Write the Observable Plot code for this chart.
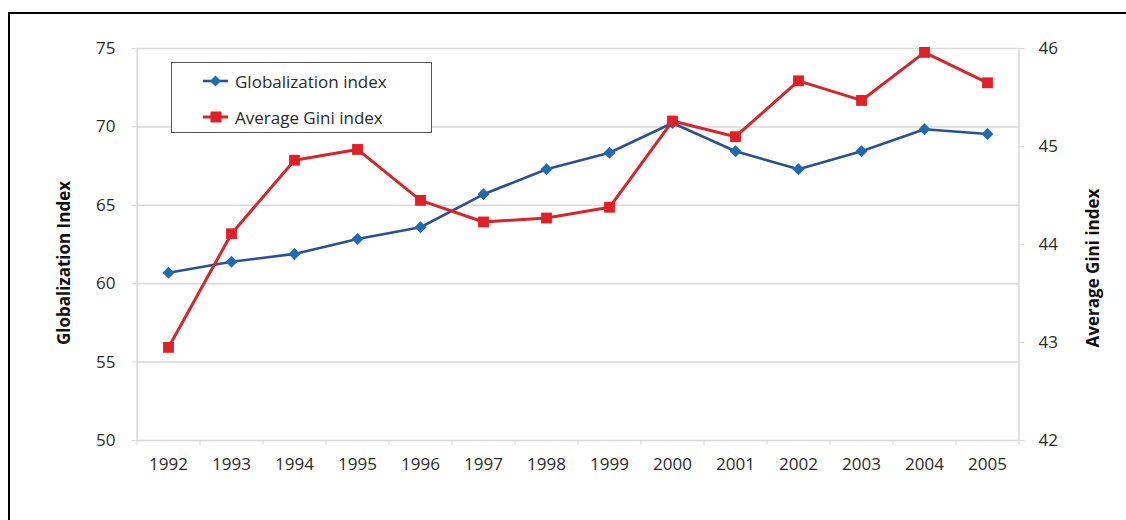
<!DOCTYPE html>
<html>
<head>
<meta charset="utf-8">
<script src="https://cdn.jsdelivr.net/npm/d3@7"></script>
<script src="https://cdn.jsdelivr.net/npm/@observablehq/plot@0.6"></script>
<style>
  html, body { margin: 0; padding: 0; background: #fff; }
  #wrap { position: relative; width: 1126px; height: 520px; overflow: hidden; font-family: "Open Sans", sans-serif; }
  #frame { position: absolute; left: 8px; top: 12px; width: 1300px; height: 700px; border-top: 2px solid #000; border-left: 2px solid #000; pointer-events: none; }
  #chart { position: absolute; left: 0; top: 0; }
  .ytitle { position: absolute; transform: translate(-50%, -50%) rotate(-90deg); white-space: nowrap; font-weight: bold; font-size: 17px; color: #111; }
  #legend { position: absolute; left: 171px; top: 62px; width: 259px; height: 69px; border: 1.5px solid #555; background: #fff; }
  .item { position: absolute; left: 0; height: 24px; display: flex; align-items: center; font-size: 17px; color: #2a2a2a; white-space: nowrap; }
  .item svg { margin-left: 31px; margin-right: 7px; }
</style>
</head>
<body>
<div id="wrap">
  <div id="chart"></div>
  <div id="frame"></div>
  <div id="legend"></div>
  <div class="ytitle" id="ltitle" style="left:63px; top:263px;"></div>
  <div class="ytitle" id="rtitle" style="left:1092px; top:268px;"></div>
</div>
<script>
// ---- data ----
const years = [1992, 1993, 1994, 1995, 1996, 1997, 1998, 1999, 2000, 2001, 2002, 2003, 2004, 2005];
const globalization = [60.7, 61.4, 61.9, 62.85, 63.6, 65.7, 67.3, 68.35, 70.25, 68.45, 67.3, 68.45, 69.85, 69.55];
const gini = [42.95, 44.11, 44.86, 44.97, 44.45, 44.23, 44.27, 44.38, 45.26, 45.1, 45.67, 45.47, 45.96, 45.65];
const leftTicks = [50, 55, 60, 65, 70, 75];
const rightTicks = [42, 43, 44, 45, 46];
const seriesNames = ["Globalization index", "Average Gini index"];
const axisTitles = ["Globalization Index", "Average Gini index"];

// ---- styles ----
const blueLine = "#2b5290", blueMark = "#1f6bb3";
const redLine = "#d7262b", redMark = "#e31e25";
const gridColor = "#d9d9d9";
const textColor = "#2a2a2a";

// map right axis (Gini) onto left scale
const L0 = leftTicks[0], L1 = leftTicks[leftTicks.length - 1];
const R0 = rightTicks[0], R1 = rightTicks[rightTicks.length - 1];
const toLeft = g => L0 + (g - R0) * (L1 - L0) / (R1 - R0);
const toRight = v => R0 + (v - L0) * (R1 - R0) / (L1 - L0);

const data = years.map((year, i) => ({ year, glob: globalization[i], gini: toLeft(gini[i]) }));
const bounds = [...years.map(y => y - 0.5), years[years.length - 1] + 0.5];

const chart = Plot.plot({
  width: 1126,
  height: 520,
  marginTop: 48,
  marginBottom: 80,
  marginLeft: 136.5,
  marginRight: 107.5,
  x: { type: "linear", domain: [bounds[0], bounds[bounds.length - 1]] },
  y: { domain: [L0, L1] },
  style: { fontFamily: "Open Sans, sans-serif", fontSize: "17px", background: "transparent", overflow: "visible" },
  marks: [
    Plot.ruleY(leftTicks, { stroke: gridColor, strokeWidth: 1.5 }),
    Plot.ruleX([bounds[0], bounds[bounds.length - 1]], { stroke: gridColor, strokeWidth: 1.5 }),
    Plot.axisY({ ticks: leftTicks, tickSize: 5, tickPadding: 16.5, stroke: gridColor, fill: textColor, tickFormat: d => String(d), label: null }),
    Plot.axisY({ anchor: "right", ticks: rightTicks.map(toLeft), tickSize: 5, tickPadding: 14.5, stroke: gridColor, fill: textColor, tickFormat: d => String(Math.round(toRight(d))), label: null }),
    Plot.axisX({ ticks: bounds, tickSize: 5, stroke: gridColor, tickFormat: () => "", label: null }),
    Plot.axisX({ ticks: years, tickSize: 0, tickPadding: 17, fill: textColor, tickFormat: d => String(d), label: null }),
    Plot.line(data, { x: "year", y: "glob", stroke: blueLine, strokeWidth: 2.6 }),
    Plot.line(data, { x: "year", y: "gini", stroke: redLine, strokeWidth: 3 }),
    Plot.dot(data, { x: "year", y: "glob", symbol: "diamond2", r: 5.4, fill: blueMark, stroke: "none" }),
    Plot.dot(data, { x: "year", y: "gini", symbol: "square", r: 6.1, fill: redMark, stroke: "none" })
  ]
});
document.getElementById("chart").appendChild(chart);

// axis titles
document.getElementById("ltitle").textContent = axisTitles[0];
document.getElementById("rtitle").textContent = axisTitles[1];

// legend
const legend = document.getElementById("legend");
const items = [
  { name: seriesNames[0], line: blueLine, mark: blueMark, shape: "diamond" },
  { name: seriesNames[1], line: redLine, mark: redMark, shape: "square" }
];
items.forEach((it, i) => {
  const div = document.createElement("div");
  div.className = "item";
  div.style.top = (i === 0 ? 6 : 42) + "px";
  const shape = it.shape === "diamond"
    ? `<path d="M12.5,6.5 L18,12 L12.5,17.5 L7,12 Z" fill="${it.mark}"/>`
    : `<rect x="7.5" y="6.5" width="11" height="11" fill="${it.mark}"/>`;
  div.innerHTML = `<svg width="25" height="24"><line x1="0" y1="12" x2="25" y2="12" stroke="${it.line}" stroke-width="${i === 0 ? 2.6 : 3}"/>${shape}</svg><span></span>`;
  div.querySelector("span").textContent = it.name;
  legend.appendChild(div);
});
</script>
</body>
</html>
